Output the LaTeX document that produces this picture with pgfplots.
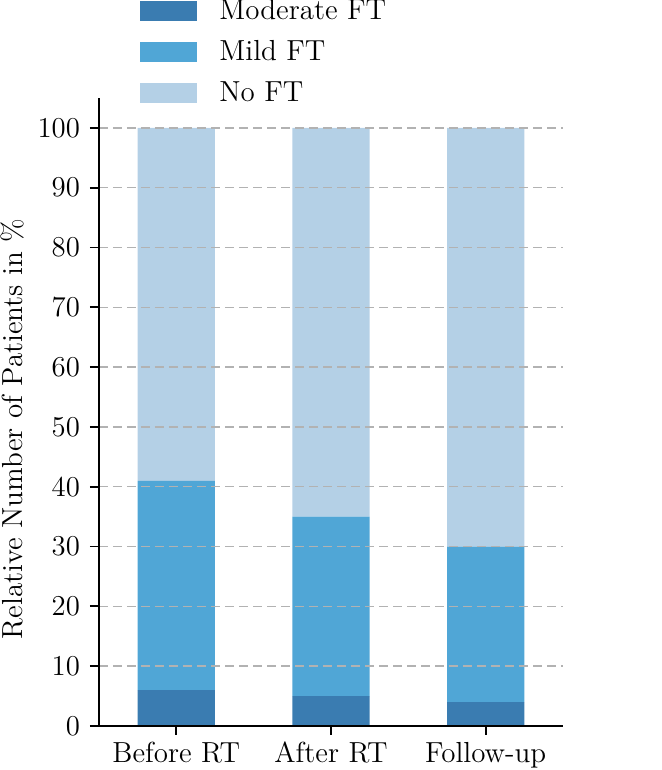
\documentclass[border=0pt]{standalone}
\usepackage{pgfplots}
\pgfplotsset{compat=1.18}
\definecolor{modc}{RGB}{58,124,177}
\definecolor{mildc}{RGB}{80,166,214}
\definecolor{noc}{RGB}{180,208,230}
\definecolor{gridc}{RGB}{178,178,178}
\begin{document}
\begin{tikzpicture}
\begin{axis}[
  at={(0,0)}, anchor=south west,
  scale only axis, width=232pt, height=314pt,
  font=\fontsize{14.5}{17.5}\selectfont,
  ybar stacked, bar width=0.5,
  xmin=-0.5, xmax=2.5, ymin=0, ymax=105,
  xtick={0,1,2}, xticklabels={Before RT, After RT, Follow-up},
  ytick={0,10,...,100},
  axis x line*=bottom, axis y line*=left,
  axis line style={line width=0.9pt, -},
  tick style={line width=0.9pt, black},
  tick align=outside, major tick length=4.5pt,
  yticklabel style={xshift=-1.5pt},
  ymajorgrids, grid style={gridc, line width=0.7pt, dash pattern=on 4.5pt off 2.5pt},
  axis on top,
  ylabel={Relative Number of Patients in \%},
  ylabel style={at={(ticklabel cs:0.473)}},
  legend style={draw=none, fill=none, at={(17.5pt,365.5pt)}, anchor=north west,
    legend cell align=left, row sep=9pt,
    nodes={inner sep=0pt},
    /tikz/every odd column/.style={column sep=11pt}},
  legend image code/.code={\fill[#1] (0pt,-5pt) rectangle (28.5pt,5pt);},
]
\addplot[fill=modc, draw=none] coordinates {(0,6) (1,5) (2,4)};
\addplot[fill=mildc, draw=none] coordinates {(0,35) (1,30) (2,26)};
\addplot[fill=noc, draw=none] coordinates {(0,59) (1,65) (2,70)};
\legend{Moderate FT, Mild FT, No FT}
\end{axis}
\pgfresetboundingbox
\useasboundingbox (-49.5pt,-22pt) rectangle (281pt,363pt);
\end{tikzpicture}
\end{document}
